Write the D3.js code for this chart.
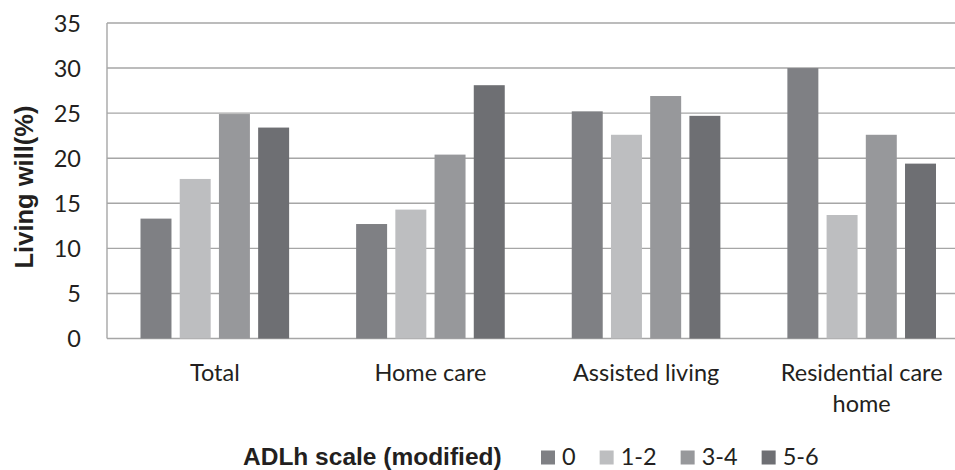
<!DOCTYPE html>
<html>
<head>
<meta charset="utf-8">
<script src="https://cdn.jsdelivr.net/npm/d3@7"></script>
<style>
  html, body { margin: 0; padding: 0; background: #fff; }
  svg { display: block; }
</style>
</head>
<body>
<svg id="chart" width="955" height="470"></svg>
<script>
// Living will (%) by care setting and ADLh scale group
const categories = ["Total", "Home care", "Assisted living", "Residential care home"];
const series = ["0", "1-2", "3-4", "5-6"];
const values0 = [13.3, 12.7, 25.2, 30.0];
const values12 = [17.7, 14.3, 22.6, 13.7];
const values34 = [24.9, 20.4, 26.9, 22.6];
const values56 = [23.4, 28.1, 24.7, 19.4];
const yTicks = [0, 5, 10, 15, 20, 25, 30, 35];
const yTitle = "Living will(%)";
const legendTitle = "ADLh scale (modified)";

const seriesValues = [values0, values12, values34, values56];
const colors = ["#7f8084", "#bdbec0", "#97989b", "#6e6f73"];

const svg = d3.select("#chart");
const margin = { left: 107, top: 23, bottom: 338.5 };
const plotRight = 969.5;

const x0 = d3.scaleBand().domain(categories).range([margin.left, plotRight]).padding(0);
const x1 = d3.scaleBand().domain(series)
  .range([33.5, x0.bandwidth() - 33.5]).paddingInner(0.21).paddingOuter(0);
const y = d3.scaleLinear().domain([0, 35]).range([margin.bottom, margin.top]);
const color = d3.scaleOrdinal().domain(series).range(colors);

const textFont = "Lato, 'Open Sans', sans-serif";
const boldFont = "'Liberation Sans', Arial, sans-serif";
const textColor = "#231f20";

// horizontal gridlines
svg.append("g")
  .selectAll("line")
  .data(yTicks)
  .join("line")
  .attr("x1", margin.left)
  .attr("x2", plotRight)
  .attr("y1", d => y(d))
  .attr("y2", d => y(d))
  .attr("stroke", "#a6a6a6")
  .attr("stroke-width", 1.4);

// left axis line
svg.append("line")
  .attr("x1", margin.left).attr("x2", margin.left)
  .attr("y1", y(35)).attr("y2", y(0))
  .attr("stroke", "#a6a6a6").attr("stroke-width", 1.4);

// bars
const rows = categories.map((c, i) => ({
  category: c,
  items: series.map((s, j) => ({ key: s, value: seriesValues[j][i] }))
}));

svg.append("g")
  .selectAll("g")
  .data(rows)
  .join("g")
  .attr("transform", d => `translate(${x0(d.category)},0)`)
  .selectAll("rect")
  .data(d => d.items)
  .join("rect")
  .attr("x", d => x1(d.key))
  .attr("width", x1.bandwidth())
  .attr("y", d => y(d.value))
  .attr("height", d => y(0) - y(d.value))
  .attr("fill", d => color(d.key));

// y axis tick labels
const yAxis = d3.axisLeft(y).tickValues(yTicks).tickSize(0).tickPadding(26);
const yAxisG = svg.append("g")
  .attr("transform", `translate(${margin.left},0)`)
  .call(yAxis);
yAxisG.select(".domain").remove();
yAxisG.selectAll("text")
  .attr("font-family", textFont)
  .attr("font-size", 23.5)
  .attr("fill", textColor)
  .attr("dy", "0.35em");

// x axis category labels, wrapped to fit the group width
const xAxis = d3.axisBottom(x0).tickSize(0).tickPadding(0);
const xAxisG = svg.append("g")
  .attr("transform", `translate(0,${y(0)})`)
  .call(xAxis);
xAxisG.select(".domain").remove();
xAxisG.selectAll("text")
  .attr("font-family", textFont)
  .attr("font-size", 23.5)
  .attr("fill", textColor)
  .attr("y", 42)
  .attr("dy", 0)
  .each(function () {
    const t = d3.select(this);
    const words = t.text().split(/\s+/);
    const maxW = 185;
    t.text(null);
    let line = [];
    let tspan = t.append("tspan").attr("x", 0).attr("dy", 0);
    for (const w of words) {
      line.push(w);
      tspan.text(line.join(" "));
      if (tspan.node().getComputedTextLength() > maxW && line.length > 1) {
        line.pop();
        tspan.text(line.join(" "));
        line = [w];
        tspan = t.append("tspan").attr("x", 0).attr("dy", 31).text(w);
      }
    }
  });

// y axis title
svg.append("text")
  .attr("transform", `translate(33,187) rotate(-90)`)
  .attr("text-anchor", "middle")
  .attr("font-family", boldFont)
  .attr("font-weight", "bold")
  .attr("font-size", 25.5)
  .attr("fill", textColor)
  .text(yTitle);

// legend: title, then a swatch and label for each ADLh group
const baseline = 464.5;
const legend = svg.append("g");
legend.append("text")
  .attr("x", 243)
  .attr("y", baseline)
  .attr("font-family", boldFont)
  .attr("font-weight", "bold")
  .attr("font-size", 24.5)
  .attr("fill", textColor)
  .text(legendTitle);

let lx = 541;
series.forEach(s => {
  legend.append("rect")
    .attr("x", lx).attr("y", baseline - 14)
    .attr("width", 14).attr("height", 14)
    .attr("fill", color(s));
  const t = legend.append("text")
    .attr("x", lx + 21)
    .attr("y", baseline)
    .attr("font-family", textFont)
    .attr("font-size", 23.5)
    .attr("fill", textColor)
    .text(s);
  lx += 21 + t.node().getComputedTextLength() + 24;
});
</script>
</body>
</html>
